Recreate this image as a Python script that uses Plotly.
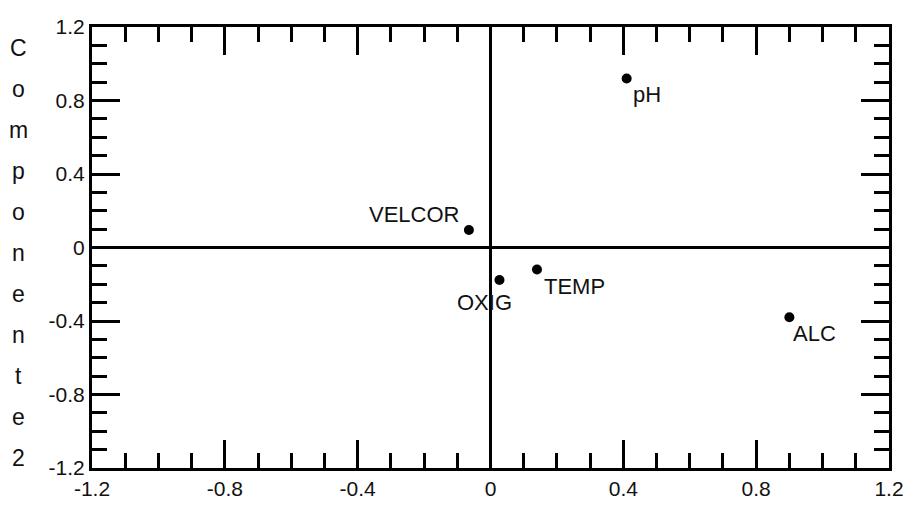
import plotly.graph_objects as go

# ---- data ----
variables = ["pH", "VELCOR", "OXIG", "TEMP", "ALC"]
comp1 = [0.41, -0.065, 0.027, 0.14, 0.90]
comp2 = [0.92, 0.095, -0.177, -0.12, -0.38]
tick_vals = [-1.2, -0.8, -0.4, 0, 0.4, 0.8, 1.2]
tick_text = ["-1.2", "-0.8", "-0.4", "0", "0.4", "0.8", "1.2"]
y_title = "Componente 2"

FONT = "Liberation Sans, Arial, sans-serif"

# label offsets (pixels) relative to each point
label_shift = {
    "pH": (20, -16),
    "VELCOR": (-55, 16),
    "OXIG": (-15, -22),
    "TEMP": (38, -17),
    "ALC": (25, -16),
}

W, H = 905, 505
ml, mr, mt, mb = 92, 16, 27, 37
plot_w = W - ml - mr
plot_h = H - mt - mb

fig = go.Figure()
fig.add_trace(go.Scatter(
    x=comp1, y=comp2, mode="markers",
    marker=dict(color="black", size=10),
    hoverinfo="text", text=variables, showlegend=False,
))

annotations = []
for name, xv, yv in zip(variables, comp1, comp2):
    dx, dy = label_shift[name]
    annotations.append(dict(
        x=xv, y=yv, xref="x", yref="y", text=name, showarrow=False,
        xanchor="center", yanchor="middle", xshift=dx, yshift=dy,
        font=dict(family=FONT, size=22, color="#111"),
    ))

# stacked y-axis title, one letter per row
letters = list(y_title.replace(" ", ""))
top_px, bot_px = 48, 458
n = len(letters)
for i, ch in enumerate(letters):
    py = top_px + (bot_px - top_px) * i / (n - 1)
    annotations.append(dict(
        x=(18 - ml) / plot_w, y=(H - mb - py) / plot_h,
        xref="paper", yref="paper", text=ch, showarrow=False,
        xanchor="center", yanchor="middle",
        font=dict(family=FONT, size=23, color="#111"),
    ))

axis_common = dict(
    range=[-1.2, 1.2], tickmode="array", tickvals=tick_vals, ticktext=tick_text,
    ticks="inside", ticklen=28, tickwidth=2.5, tickcolor="black",
    showline=True, linewidth=3, linecolor="black", mirror="allticks",
    showgrid=False, zeroline=True, zerolinecolor="black", zerolinewidth=2.5,
    tickfont=dict(family=FONT, size=21, color="#111"),
    minor=dict(dtick=0.1, tick0=0, ticks="inside", ticklen=15, tickwidth=2.5,
               tickcolor="black", showgrid=False),
    automargin=False, fixedrange=True,
)

fig.update_xaxes(**axis_common)
fig.update_yaxes(**axis_common)

fig.update_layout(
    width=W, height=H,
    margin=dict(l=ml, r=mr, t=mt, b=mb),
    paper_bgcolor="white", plot_bgcolor="white",
    annotations=annotations,
    showlegend=False,
)

fig.write_html(
    "out.html",
    config={"displayModeBar": False},
    post_script="document.body.style.margin='0';document.body.style.overflow='hidden';",
)
